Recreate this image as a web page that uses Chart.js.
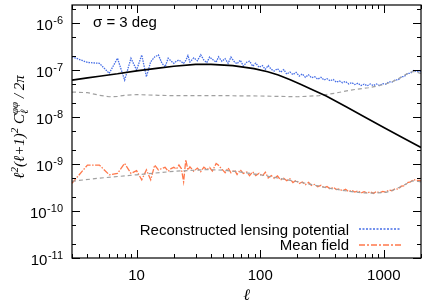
<!DOCTYPE html>
<html>
<head>
<meta charset="utf-8">
<script src="https://cdn.jsdelivr.net/npm/chart.js@4.4.1/dist/chart.umd.min.js"></script>
<style>
html, body { margin: 0; padding: 0; background: #fff; }
canvas { display: block; }
</style>
</head>
<body>
<canvas id="myChart" width="422" height="303"></canvas>
<script>
// multipoles shared by the two noisy spectra
const ellNoisy = [3, 4, 5, 6, 7, 8, 9, 10, 11, 12, 13, 14, 15, 16, 17, 18, 19, 20, 21, 22, 23, 24, 25,
    26, 27, 29, 31, 33, 35, 37, 39, 41, 44, 46, 49, 52, 55, 58, 62, 65, 69, 73, 78, 82, 87,
    92, 98, 104, 110, 116, 123, 130, 138, 146, 155, 164, 174, 184, 195, 207, 219, 232, 246, 260, 276, 292,
    310, 328, 347, 368, 390, 413, 437, 463, 491, 520, 551, 583, 618, 655, 693, 735, 778, 824, 873, 925, 980,
    1038, 1100, 1165, 1234, 1307, 1385, 1467, 1554, 1646, 1744, 1847, 1957, 2048];

const reconValues = [1.92e-7, 1.45e-7, 1.39e-7, 8.5e-8, 1.78e-7, 6.1e-8, 1.78e-7, 1.0e-7, 2.09e-7, 7.2e-8, 1.5e-7, 1.9e-7, 2.1e-7, 1.4e-7, 1.17e-7, 1.78e-7, 1.55e-7, 1.39e-7, 1.55e-7, 1.63e-7, 1.5e-7, 1.39e-7, 1.6e-7,
    2.03e-7, 1.48e-7, 1.81e-7, 1.58e-7, 2.10e-7, 1.63e-7, 1.44e-7, 1.90e-7, 1.69e-7, 1.47e-7, 1.91e-7, 1.53e-7, 1.75e-7, 1.39e-7, 1.88e-7, 1.48e-7, 1.36e-7, 1.62e-7, 1.22e-7, 1.47e-7, 1.54e-7, 1.21e-7,
    1.40e-7, 1.14e-7, 1.25e-7, 1.035e-7, 1.24e-7, 1.03e-7, 9.5e-8, 1.07e-7, 9.0e-8, 1.02e-7, 8.2e-8, 9.05e-8, 8.0e-8, 8.94e-8, 7.44e-8, 8.27e-8, 7.0e-8, 7.92e-8, 6.84e-8, 7.21e-8, 6.39e-8,
    7.0e-8, 6.13e-8, 6.55e-8, 5.9e-8, 6.3e-8, 5.5e-8, 5.87e-8, 5.38e-8, 5.72e-8, 5.04e-8, 5.41e-8, 4.9e-8, 5.25e-8, 4.66e-8, 5.0e-8, 4.61e-8, 5.04e-8, 4.66e-8, 5.04e-8, 4.66e-8, 5.15e-8,
    5.0e-8, 5.62e-8, 5.53e-8, 6.18e-8, 6.14e-8, 7.18e-8, 7.28e-8, 8.45e-8, 8.54e-8, 9.78e-8, 9.31e-8, 9.48e-8, 8.63e-8];

const meanFieldValues = [3.9e-10, 9.5e-10, 9.5e-10, 5.9e-10, 6.3e-10, 1.03e-9, 6.3e-10, 7.2e-10, 4.6e-10, 7.5e-10, 4.6e-10, 9.5e-10, 7.5e-10, 8.0e-10, 8.5e-10, 7.0e-10, 8.0e-10, 8.5e-10, 7.8e-10, 9.5e-10, 8.0e-10, 4.2e-10, 1.23e-9,
    7.41e-10, 8.74e-10, 7.02e-10, 8.19e-10, 6.86e-10, 8.58e-10, 7.57e-10, 8.42e-10, 7.08e-10, 1.026e-9, 9.38e-10, 7.77e-10, 6.57e-10, 8.28e-10, 6.51e-10, 7.45e-10, 5.98e-10, 7.5e-10, 6.27e-10, 6.78e-10, 5.67e-10, 6.82e-10,
    5.67e-10, 6.37e-10, 5.51e-10, 6.72e-10, 5.06e-10, 5.67e-10, 4.94e-10, 5.56e-10, 4.56e-10, 4.99e-10, 4.42e-10, 4.85e-10, 4.04e-10, 4.49e-10, 3.85e-10, 4.15e-10, 3.62e-10, 4.05e-10, 3.5e-10, 3.69e-10, 3.28e-10,
    3.52e-10, 3.14e-10, 3.31e-10, 2.95e-10, 3.2e-10, 2.86e-10, 2.97e-10, 2.68e-10, 2.9e-10, 2.59e-10, 2.76e-10, 2.52e-10, 2.69e-10, 2.42e-10, 2.58e-10, 2.41e-10, 2.57e-10, 2.37e-10, 2.6e-10, 2.43e-10, 2.62e-10,
    2.52e-10, 2.79e-10, 2.7e-10, 2.99e-10, 2.93e-10, 3.38e-10, 3.44e-10, 4.02e-10, 4.17e-10, 4.69e-10, 4.46e-10, 4.49e-10, 4.21e-10];

// input lensing spectrum (solid black)
const ellTheory = [3, 4, 5, 7, 10, 15, 20, 30, 40, 60, 89, 115, 140, 175, 214, 270, 342, 500, 700, 1000, 1400, 2000, 2100];
const theoryValues = [6.1e-8, 6.8e-8, 7.4e-8, 8.3e-8, 9.6e-8, 1.1e-7, 1.2e-7, 1.32e-7, 1.32e-7, 1.24e-7, 1.07e-7, 9.2e-8, 7.8e-8, 6.2e-8, 4.9e-8, 3.7e-8, 2.8e-8, 1.63e-8, 1.0e-8, 6.0e-9, 3.7e-9, 2.25e-9, 2.1e-9];

// gray dashed curves
const ellNoiseHi = [3, 4, 5, 6, 7, 8, 10, 12, 15, 20, 30, 50, 100, 200, 300, 400, 500, 600, 750, 900, 1050, 1200, 1350, 1500, 1650, 1750, 1850, 1950, 2048];
const noiseHiValues = [3.4e-8, 3.3e-8, 2.9e-8, 2.7e-8, 2.75e-8, 2.9e-8, 3.0e-8, 2.95e-8, 2.9e-8, 2.85e-8, 2.85e-8, 2.85e-8, 2.8e-8, 2.7e-8, 2.85e-8, 3.2e-8, 3.6e-8, 3.9e-8, 4.2e-8, 4.6e-8, 5.1e-8, 5.8e-8, 6.8e-8, 8.0e-8, 9.0e-8, 9.3e-8, 9.0e-8, 8.6e-8, 8.4e-8];
const ellNoiseLo = [3, 5, 10, 20, 37, 50, 70, 100, 135, 200, 256, 350, 485, 650, 800, 1040, 1200, 1340, 1500, 1637, 1750, 1900, 2048];
const noiseLoValues = [4.3e-10, 5.0e-10, 5.9e-10, 7.0e-10, 7.6e-10, 7.4e-10, 6.7e-10, 5.9e-10, 5.1e-10, 4.2e-10, 3.7e-10, 3.1e-10, 2.7e-10, 2.45e-10, 2.4e-10, 2.5e-10, 2.8e-10, 3.2e-10, 3.7e-10, 4.2e-10, 4.4e-10, 4.25e-10, 4.1e-10];

const xTickLabels = [10, 100, 1000];
const yTickExponents = [-11, -10, -9, -8, -7, -6];
const legendLabels = ['Reconstructed lensing potential', 'Mean field'];
const annotation = 'σ = 3 deg';

const SANS = '"Liberation Sans", Arial, sans-serif';
const SERIF = '"Liberation Serif", "Times New Roman", serif';
const BLUE = 'rgb(70,110,230)';
const CORAL = 'rgb(255,120,75)';
const GRAY = 'rgb(160,160,160)';

function pairs(xs, ys) {
    return xs.map((v, i) => ({ x: v, y: ys[i] }));
}

// y axis title pieces: normal text, or a sub/superscript pair
const yTitleParts = [
    { t: 'ℓ' }, { sup: '2' }, { t: '(ℓ+1)' }, { sup: '2' }, { t: ' C' }, { sub: 'ℓ', sup: 'φφ' }, { t: ' / 2π' }
];

function richWidth(ctx, parts, size) {
    let w = 0;
    for (const p of parts) {
        if (p.t !== undefined) {
            ctx.font = 'italic ' + size + 'px ' + SERIF;
            w += ctx.measureText(p.t).width;
        } else {
            ctx.font = 'italic ' + Math.round(size * 0.7) + 'px ' + SERIF;
            w += Math.max(p.sub ? ctx.measureText(p.sub).width : 0, p.sup ? ctx.measureText(p.sup).width : 0);
        }
    }
    return w;
}

function drawRich(ctx, parts, x, y, size) {
    let cx = x;
    ctx.textAlign = 'left';
    ctx.textBaseline = 'alphabetic';
    for (const p of parts) {
        if (p.t !== undefined) {
            ctx.font = 'italic ' + size + 'px ' + SERIF;
            ctx.fillText(p.t, cx, y);
            cx += ctx.measureText(p.t).width;
        } else {
            ctx.font = 'italic ' + Math.round(size * 0.7) + 'px ' + SERIF;
            let w = 0;
            if (p.sup) {
                ctx.fillText(p.sup, cx, y - size * 0.42);
                w = ctx.measureText(p.sup).width;
            }
            if (p.sub) {
                ctx.fillText(p.sub, cx, y + size * 0.28);
                w = Math.max(w, ctx.measureText(p.sub).width);
            }
            cx += w;
        }
    }
}

const decorPlugin = {
    id: 'decor',
    beforeDraw(chart) {
        const ctx = chart.ctx;
        ctx.save();
        ctx.fillStyle = '#fff';
        ctx.fillRect(0, 0, chart.width, chart.height);
        ctx.restore();
    },
    afterDraw(chart) {
        const ctx = chart.ctx;
        const a = chart.chartArea;
        const xs = chart.scales.x;
        const ys = chart.scales.y;
        ctx.save();

        // frame
        ctx.strokeStyle = '#000';
        ctx.lineWidth = 1.2;
        ctx.strokeRect(a.left, a.top, a.right - a.left, a.bottom - a.top);

        // inward ticks on all four sides
        ctx.lineWidth = 1;
        ctx.beginPath();
        for (let n = 0; n <= 3; n++) {
            for (let k = 1; k <= 9; k++) {
                const v = k * Math.pow(10, n);
                if (v < xs.min || v > xs.max) continue;
                const px = Math.round(xs.getPixelForValue(v)) + 0.5;
                const len = k === 1 ? 8 : 4;
                ctx.moveTo(px, a.bottom); ctx.lineTo(px, a.bottom - len);
                ctx.moveTo(px, a.top); ctx.lineTo(px, a.top + len);
            }
        }
        for (let e = -11; e <= -6; e++) {
            for (const k of [1, 2, 5]) {
                const v = k * Math.pow(10, e);
                if (v < ys.min || v > ys.max) continue;
                const py = Math.round(ys.getPixelForValue(v)) + 0.5;
                const len = k === 1 ? 8 : 4;
                ctx.moveTo(a.left, py); ctx.lineTo(a.left + len, py);
                ctx.moveTo(a.right, py); ctx.lineTo(a.right - len, py);
            }
        }
        ctx.stroke();

        ctx.fillStyle = '#000';
        // x tick labels
        ctx.font = '15px ' + SANS;
        ctx.textAlign = 'center';
        ctx.textBaseline = 'alphabetic';
        for (const v of xTickLabels) {
            ctx.fillText(String(v), xs.getPixelForValue(v), 280);
        }
        // y tick labels 10^e
        for (const e of yTickExponents) {
            const py = ys.getPixelForValue(Math.pow(10, e));
            ctx.font = '11px ' + SANS;
            ctx.textAlign = 'left';
            const exp = String(e);
            const ew = ctx.measureText(exp).width;
            ctx.fillText(exp, 63 - ew, py + 0.5);
            ctx.font = '15px ' + SANS;
            ctx.textAlign = 'right';
            ctx.fillText('10', 63 - ew - 0.5, py + 6.5);
        }

        // axis titles
        ctx.font = 'italic 16px ' + SERIF;
        ctx.textAlign = 'center';
        ctx.fillText('ℓ', (a.left + a.right) / 2, 300);

        ctx.save();
        ctx.translate(24, 127);
        ctx.rotate(-Math.PI / 2);
        const tw = richWidth(ctx, yTitleParts, 15);
        drawRich(ctx, yTitleParts, -tw / 2, 0, 15);
        ctx.restore();

        // annotation
        ctx.font = '15px ' + SANS;
        ctx.textAlign = 'left';
        ctx.fillText(annotation, 93, 27);

        // legend
        ctx.textAlign = 'right';
        ctx.fillText(legendLabels[0], 349, 235);
        ctx.fillText(legendLabels[1], 349, 250);
        ctx.lineWidth = 1.5;
        ctx.lineCap = 'butt';
        ctx.strokeStyle = BLUE;
        ctx.setLineDash([2, 1.5]);
        ctx.beginPath(); ctx.moveTo(359, 229); ctx.lineTo(401, 229); ctx.stroke();
        ctx.strokeStyle = CORAL;
        ctx.setLineDash([6, 2, 2, 2]);
        ctx.beginPath(); ctx.moveTo(359, 245); ctx.lineTo(401, 245); ctx.stroke();
        ctx.restore();
    }
};

new Chart(document.getElementById('myChart'), {
    type: 'line',
    data: {
        datasets: [
            {
                data: pairs(ellTheory, theoryValues),
                borderColor: '#000', borderWidth: 1.6, order: 0
            },
            {
                data: pairs(ellNoiseLo, noiseLoValues),
                borderColor: GRAY, borderWidth: 1.2, borderDash: [4, 3], order: 1
            },
            {
                data: pairs(ellNoiseHi, noiseHiValues),
                borderColor: GRAY, borderWidth: 1.2, borderDash: [4, 3], order: 2
            },
            {
                data: pairs(ellNoisy, meanFieldValues),
                borderColor: CORAL, borderWidth: 1.3, borderDash: [6, 1.5, 1.5, 1.5], order: 3
            },
            {
                data: pairs(ellNoisy, reconValues),
                borderColor: BLUE, borderWidth: 1.3, borderDash: [1.5, 1], order: 4
            }
        ]
    },
    options: {
        responsive: false,
        animation: false,
        devicePixelRatio: 1,
        layout: { padding: { top: 5, right: 1, left: 0, bottom: 0 } },
        plugins: { legend: { display: false }, tooltip: { enabled: false } },
        elements: { point: { radius: 0 }, line: { tension: 0 } },
        scales: {
            x: {
                type: 'logarithmic', min: 3, max: 2000,
                grid: { display: false }, border: { display: false },
                ticks: { display: false },
                afterFit(scale) { scale.height = 45; }
            },
            y: {
                type: 'logarithmic', min: 1e-11, max: 2.42e-6,
                grid: { display: false }, border: { display: false },
                ticks: { display: false },
                afterFit(scale) { scale.width = 72; }
            }
        }
    },
    plugins: [decorPlugin]
});
</script>
</body>
</html>
